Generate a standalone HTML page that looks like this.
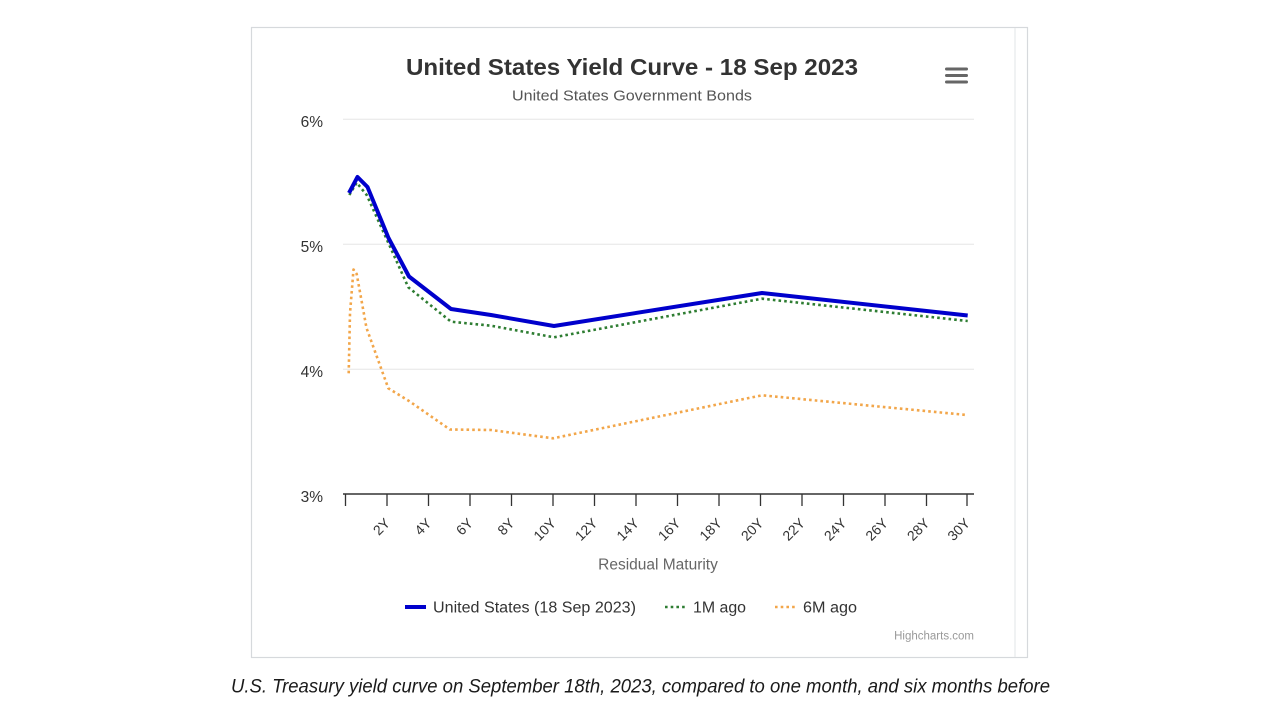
<!DOCTYPE html>
<html>
<head>
<meta charset="utf-8">
<style>
  html, body { margin:0; padding:0; background:#ffffff; }
  body { width:1280px; height:719px; overflow:hidden; }
  svg { display:block; }
  text { font-family: "Liberation Sans", "DejaVu Sans", sans-serif; }
</style>
</head>
<body>
<svg width="1280" height="719" viewBox="0 0 1280 719" xmlns="http://www.w3.org/2000/svg">
  <!-- card -->
  <rect x="251.5" y="27.5" width="776" height="630" fill="#ffffff" stroke="#d6d9dc" stroke-width="1.2"/>
  <line x1="1015" y1="28" x2="1015" y2="657" stroke="#eceeef" stroke-width="1.5"/>

  <!-- title -->
  <text x="632" y="75" text-anchor="middle" font-size="23" font-weight="bold" fill="#333333" textLength="452" lengthAdjust="spacingAndGlyphs">United States Yield Curve - 18 Sep 2023</text>
  <text x="632" y="100.5" text-anchor="middle" font-size="15" fill="#555555" textLength="240" lengthAdjust="spacingAndGlyphs">United States Government Bonds</text>

  <!-- hamburger -->
  <g stroke="#666666" stroke-width="3" stroke-linecap="round">
    <line x1="946.5" y1="69" x2="966.5" y2="69"/>
    <line x1="946.5" y1="75.5" x2="966.5" y2="75.5"/>
    <line x1="946.5" y1="82" x2="966.5" y2="82"/>
  </g>

  <!-- gridlines -->
  <g stroke="#e6e6e6" stroke-width="1">
    <line x1="343" y1="119.3" x2="974" y2="119.3"/>
    <line x1="343" y1="244.3" x2="974" y2="244.3"/>
    <line x1="343" y1="369.3" x2="974" y2="369.3"/>
  </g>

  <!-- y labels -->
  <g font-size="15.5" fill="#333333" text-anchor="end">
    <text x="323" y="127">6%</text>
    <text x="323" y="252">5%</text>
    <text x="323" y="377">4%</text>
    <text x="323" y="502">3%</text>
  </g>

  <!-- x axis -->
  <line x1="343" y1="494" x2="974" y2="494" stroke="#333333" stroke-width="1.5"/>
  <g stroke="#333333" stroke-width="1.3">
    <line x1="345.5" y1="494" x2="345.5" y2="506"/>
    <line x1="387" y1="494" x2="387" y2="506"/>
    <line x1="428.5" y1="494" x2="428.5" y2="506"/>
    <line x1="470" y1="494" x2="470" y2="506"/>
    <line x1="511.5" y1="494" x2="511.5" y2="506"/>
    <line x1="553" y1="494" x2="553" y2="506"/>
    <line x1="594.5" y1="494" x2="594.5" y2="506"/>
    <line x1="636" y1="494" x2="636" y2="506"/>
    <line x1="677.5" y1="494" x2="677.5" y2="506"/>
    <line x1="719" y1="494" x2="719" y2="506"/>
    <line x1="760.5" y1="494" x2="760.5" y2="506"/>
    <line x1="802" y1="494" x2="802" y2="506"/>
    <line x1="843.5" y1="494" x2="843.5" y2="506"/>
    <line x1="885" y1="494" x2="885" y2="506"/>
    <line x1="926.5" y1="494" x2="926.5" y2="506"/>
    <line x1="967" y1="494" x2="967" y2="506"/>
  </g>

  <!-- x labels -->
  <g font-size="14" fill="#333333" text-anchor="end">
    <text transform="translate(391,524) rotate(-45)">2Y</text>
    <text transform="translate(432.5,524) rotate(-45)">4Y</text>
    <text transform="translate(474,524) rotate(-45)">6Y</text>
    <text transform="translate(515.5,524) rotate(-45)">8Y</text>
    <text transform="translate(557,524) rotate(-45)">10Y</text>
    <text transform="translate(598.5,524) rotate(-45)">12Y</text>
    <text transform="translate(640,524) rotate(-45)">14Y</text>
    <text transform="translate(681.5,524) rotate(-45)">16Y</text>
    <text transform="translate(723,524) rotate(-45)">18Y</text>
    <text transform="translate(764.5,524) rotate(-45)">20Y</text>
    <text transform="translate(806,524) rotate(-45)">22Y</text>
    <text transform="translate(847.5,524) rotate(-45)">24Y</text>
    <text transform="translate(889,524) rotate(-45)">26Y</text>
    <text transform="translate(930.5,524) rotate(-45)">28Y</text>
    <text transform="translate(971,524) rotate(-45)">30Y</text>
  </g>
  <text x="658" y="569.5" text-anchor="middle" font-size="15.5" fill="#666666">Residual Maturity</text>

  <!-- series: 6M ago -->
  <polyline fill="none" stroke="#f2a64a" stroke-width="2.6" stroke-dasharray="2.6 3.1" stroke-linejoin="round"
    points="348.7,373.3 350,313.3 353.5,269.5 356.7,274 366.5,328 388.3,388.3 409,401 450,429.5 491,430 553,438.3 762,395.3 967,415"/>

  <!-- series: 1M ago -->
  <polyline fill="none" stroke="#2e7d32" stroke-width="2.6" stroke-dasharray="2.6 3.1" stroke-linejoin="round"
    points="349.3,195 356.7,182.7 366.7,195 389.3,245 408.3,287.3 451,321.7 491,325.7 554,337.3 762,298.7 967.7,321"/>

  <!-- series: United States -->
  <polyline fill="none" stroke="#0000cc" stroke-width="4" stroke-linejoin="round" stroke-linecap="butt"
    points="349,193 357.5,177 367.5,187 388.5,238 409,276.5 451,309 491,315 554,326 762,293 967.7,315.5"/>

  <!-- legend -->
  <line x1="405" y1="607" x2="426" y2="607" stroke="#0000cc" stroke-width="4"/>
  <text x="433" y="612.5" font-size="15.5" fill="#333333" textLength="203" lengthAdjust="spacingAndGlyphs">United States (18 Sep 2023)</text>
  <line x1="665" y1="607" x2="685" y2="607" stroke="#2e7d32" stroke-width="2.6" stroke-dasharray="2.6 3.1"/>
  <text x="693" y="612.5" font-size="15.5" fill="#333333" textLength="53" lengthAdjust="spacingAndGlyphs">1M ago</text>
  <line x1="775" y1="607" x2="795" y2="607" stroke="#f2a64a" stroke-width="2.6" stroke-dasharray="2.6 3.1"/>
  <text x="803" y="612.5" font-size="15.5" fill="#333333" textLength="54" lengthAdjust="spacingAndGlyphs">6M ago</text>

  <text x="974" y="639.5" text-anchor="end" font-size="11.5" fill="#999999">Highcharts.com</text>

  <!-- caption -->
  <text x="231" y="692.5" font-size="19" font-style="italic" fill="#1a1a1a" textLength="819" lengthAdjust="spacingAndGlyphs">U.S. Treasury yield curve on September 18th, 2023, compared to one month, and six months before</text>
</svg>
</body>
</html>
